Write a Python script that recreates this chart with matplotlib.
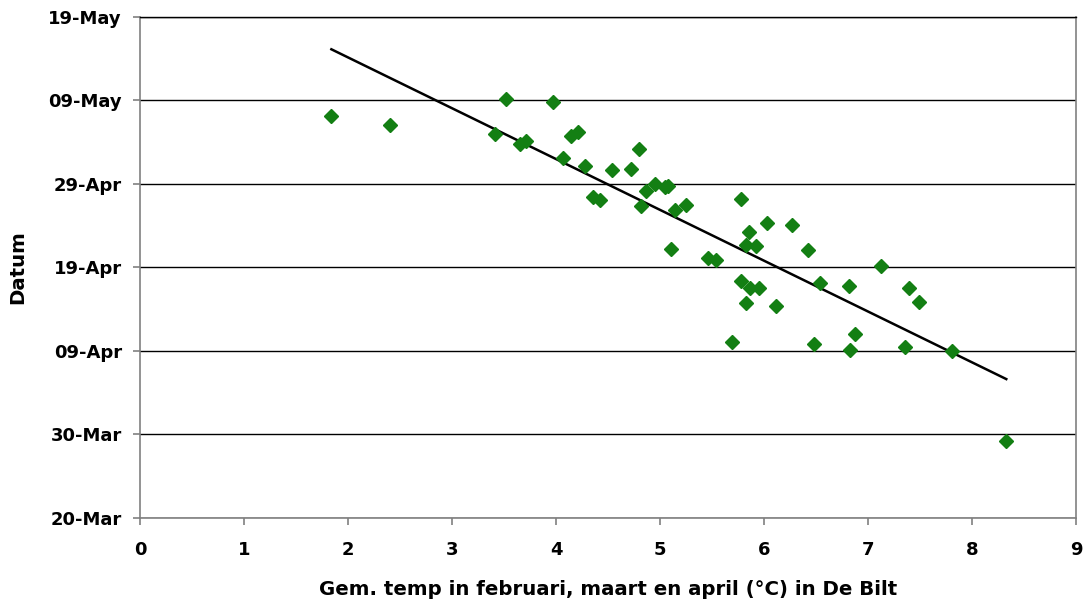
import numpy as np
import matplotlib
matplotlib.use("Agg")
import matplotlib.pyplot as plt
import matplotlib.dates as mdates
from datetime import date

# gemiddelde temperatuur feb-apr (C) en datum (dagen na 20 maart)
temp = [1.84, 2.40, 3.52, 3.97, 3.41, 3.65, 3.71, 4.14, 4.21, 4.07,
        4.28, 4.54, 4.72, 4.80, 4.95, 4.87, 5.05, 5.08, 4.36, 4.42,
        4.82, 5.14, 5.25, 5.11, 5.46, 5.54, 5.78, 6.03, 6.27, 5.86,
        5.83, 5.92, 6.42, 7.13, 5.78, 5.87, 5.95, 6.54, 6.82, 7.39,
        7.49, 5.83, 6.12, 5.69, 6.48, 6.88, 6.83, 7.36, 7.81, 8.33]
days = [48.1, 47.0, 50.1, 49.8, 46.0, 44.8, 45.1, 45.7, 46.2, 43.1,
        42.1, 41.6, 41.7, 44.2, 40.0, 39.1, 39.6, 39.7, 38.4, 38.0,
        37.3, 36.8, 37.5, 32.2, 31.1, 30.9, 38.2, 35.3, 35.1, 34.2,
        32.6, 32.5, 32.1, 30.1, 28.3, 27.5, 27.5, 28.1, 27.7, 27.5,
        25.8, 25.7, 25.4, 21.0, 20.8, 22.0, 20.1, 20.5, 20.0, 9.2]

start = date(2001, 3, 20)
tick_days = [0, 10, 20, 30, 40, 50, 60]


def to_num(d):
    return mdates.date2num(start) + np.asarray(d)


plt.rcParams['font.family'] = ['DejaVu Sans']

fig = plt.figure(figsize=(10.83, 6.02), dpi=100)
ax = fig.add_axes([0.1293, 0.140, 0.8642, 0.8323])

ax.plot(temp, to_num(days), linestyle='none', marker='D', markersize=7,
        color='#137F13', zorder=3)

# lineaire trendlijn
a, b = np.polyfit(temp, days, 1)
tx = np.array([min(temp), max(temp)])
ax.plot(tx, to_num(a * tx + b), color='black', lw=1.8, zorder=2)

ax.set_xlim(0, 9)
ax.set_ylim(to_num(0), to_num(60))
ax.set_xticks(range(10))
ax.set_yticks(to_num(tick_days))
ax.yaxis.set_major_formatter(mdates.DateFormatter('%d-%b'))

ax.grid(axis='y', color='black', lw=1)
ax.set_axisbelow(True)
for s in ['left', 'bottom', 'right']:
    ax.spines[s].set_color('#808080')
    ax.spines[s].set_linewidth(1.2)
ax.spines['top'].set_color('black')
ax.spines['top'].set_linewidth(1)

ax.tick_params(direction='out', length=5, color='#808080', width=1.2,
               labelsize=13)
ax.tick_params(axis='x', pad=12)
ax.tick_params(axis='y', pad=8)
for lab in ax.get_xticklabels() + ax.get_yticklabels():
    lab.set_fontweight('bold')

ax.set_xlabel('Gem. temp in februari, maart en april (°C) in De Bilt',
              fontsize=14.2, fontweight='bold')
ax.set_ylabel('Datum', fontsize=14.2, fontweight='bold')
ax.xaxis.set_label_coords(0.5, -0.124)
ax.yaxis.set_label_coords(-0.12, 0.5)

fig.savefig('out.png', dpi=100)
